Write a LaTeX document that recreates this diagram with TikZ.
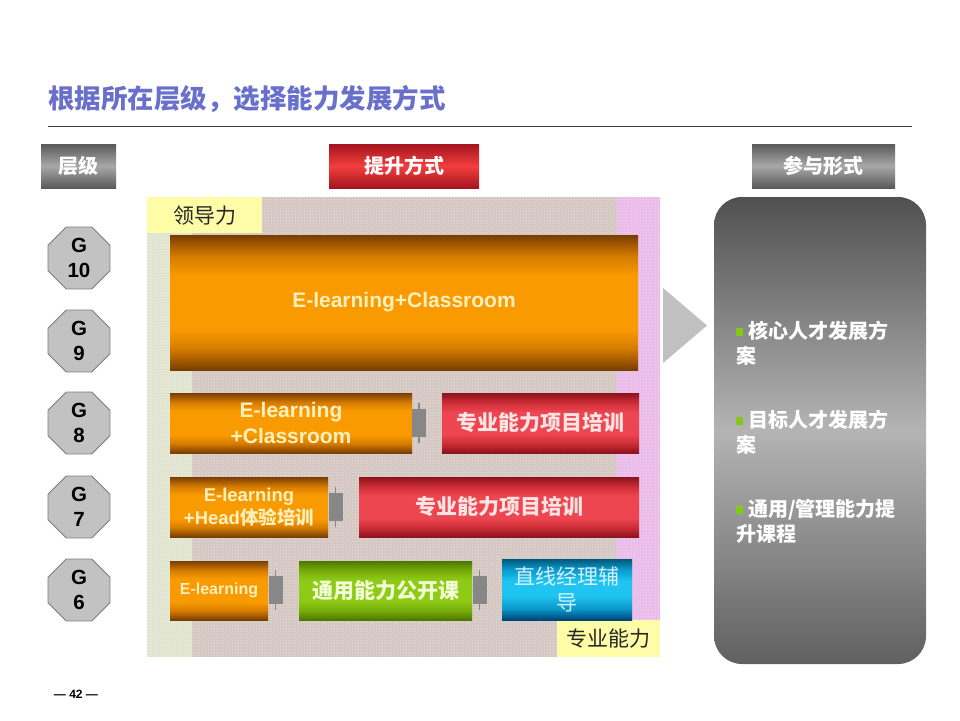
\documentclass[tikz,border=0pt]{standalone}
\usepackage{fontspec}
\setmainfont{Liberation Sans}
\newfontfamily\cjk{Noto Sans CJK SC}
\usetikzlibrary{shapes.geometric,patterns,positioning}
\definecolor{titleblue}{RGB}{104,112,204}
\definecolor{rulegray}{RGB}{60,60,60}
\definecolor{hg1}{RGB}{90,90,90}
\definecolor{hg2}{RGB}{168,168,168}
\definecolor{hr1}{RGB}{165,20,30}
\definecolor{hr2}{RGB}{242,62,62}
\definecolor{or1}{RGB}{120,62,0}
\definecolor{orm}{RGB}{214,124,0}
\definecolor{or2}{RGB}{248,154,0}
\definecolor{ortext}{RGB}{255,240,190}
\definecolor{rd1}{RGB}{140,18,28}
\definecolor{rdm}{RGB}{205,45,55}
\definecolor{rd2}{RGB}{238,70,80}
\definecolor{rdtext}{RGB}{255,228,228}
\definecolor{gr1}{RGB}{78,118,0}
\definecolor{grm}{RGB}{118,172,10}
\definecolor{gr2}{RGB}{142,202,22}
\definecolor{grtext}{RGB}{242,255,215}
\definecolor{bl1}{RGB}{0,88,120}
\definecolor{blm}{RGB}{10,150,200}
\definecolor{bl2}{RGB}{32,196,240}
\definecolor{bl3}{RGB}{0,66,118}
\definecolor{bltext}{RGB}{212,242,255}
\definecolor{conngray}{RGB}{135,135,135}
\definecolor{octfill}{RGB}{194,194,194}
\definecolor{octdraw}{RGB}{125,125,125}
\definecolor{bgtan}{RGB}{212,198,192}
\definecolor{bggreen}{RGB}{224,228,206}
\definecolor{bgpink}{RGB}{234,186,234}
\definecolor{bgyellow}{RGB}{255,252,168}
\definecolor{pn1}{RGB}{80,80,80}
\definecolor{pn2}{RGB}{180,180,180}
\definecolor{pn3}{RGB}{96,96,96}
\definecolor{arrgray}{RGB}{192,192,192}
\definecolor{bgreen}{RGB}{130,200,20}
\pgfdeclareverticalshading{orashade}{100bp}{color(0bp)=(or1); color(25bp)=(or1); color(33bp)=(orm); color(40bp)=(or2); color(60bp)=(or2); color(67bp)=(orm); color(75bp)=(or1); color(100bp)=(or1)}
\pgfdeclareverticalshading{redshade}{100bp}{color(0bp)=(rd1); color(25bp)=(rd1); color(33bp)=(rdm); color(41bp)=(rd2); color(59bp)=(rd2); color(67bp)=(rdm); color(75bp)=(rd1); color(100bp)=(rd1)}
\pgfdeclareverticalshading{greenshade}{100bp}{color(0bp)=(gr1); color(25bp)=(gr1); color(33bp)=(grm); color(41bp)=(gr2); color(59bp)=(gr2); color(67bp)=(grm); color(75bp)=(gr1); color(100bp)=(gr1)}
\pgfdeclareverticalshading{blueshade}{100bp}{color(0bp)=(bl3); color(25bp)=(bl3); color(34bp)=(blm); color(45bp)=(bl2); color(57bp)=(bl2); color(67bp)=(blm); color(75bp)=(bl1); color(100bp)=(bl1)}
\newcommand{\fs}[2]{\fontsize{#1}{#2}\selectfont}
\newcommand{\bul}{{\color{bgreen}\rule[3pt]{7pt}{8pt}}\hspace{5pt}}
\begin{document}
\begin{tikzpicture}[x=1pt,y=-1pt,
  hdr/.style={minimum height=44pt, inner sep=0pt, text=white, font=\cjk\bfseries\fs{20}{24}},
  hdrgray/.style={hdr, top color=hg1, bottom color=hg1, middle color=hg2},
  hdrred/.style={hdr, top color=hr1, bottom color=hr1, middle color=hr2},
  oct/.style={regular polygon, regular polygon sides=8, minimum size=67pt, inner sep=0pt,
    fill=octfill, draw=octdraw, line width=0.8pt, align=center, font=\bfseries\fs{20.5}{25}},
  obox/.style={inner sep=0pt, shading=orashade, text=ortext, align=center},
  rbox/.style={inner sep=0pt, shading=redshade, text=rdtext, align=center,
    font=\cjk\bfseries\fs{21}{26}},
  gbox/.style={inner sep=0pt, shading=greenshade, text=grtext, align=center,
    font=\cjk\bfseries\fs{21}{26}},
  bbox/.style={inner sep=0pt, shading=blueshade, text=bltext, align=center,
    font=\cjk\fs{21}{26}},
  conn/.style={fill=conngray, minimum width=14pt, minimum height=28pt, inner sep=0pt},
  connpin/.style={conngray, line width=1.6pt},
  ylabel/.style={fill=bgyellow, inner sep=0pt, font=\cjk\fs{21}{24}, text=black!85},
  item/.style={anchor=north west, inner sep=0pt, align=left, text=white, font=\cjk\bfseries\fs{20}{25}}
]
\useasboundingbox (0,0) rectangle (960,720);
\fill[white] (0,0) rectangle (960,720);

% title
\node[anchor=west, inner sep=0pt, text=titleblue, font=\cjk\bfseries\fs{26.5}{30}] (title) at (48,99) {根据所在层级，选择能力发展方式};
\draw[rulegray, line width=1pt] (48,126) -- (912,126);

% headers
\node[hdrgray, minimum width=75pt] (hlevel) at (78.5,166) {层级};
\node[hdrred, minimum width=150pt] (hmethod) at (404,166) {提升方式};
\node[hdrgray, minimum width=143pt] (hform) at (823.5,166) {参与形式};

% textured background
\fill[bgtan] (192,197) rectangle (617,657);
\fill[bggreen] (147,197) rectangle (192,657);
\fill[bgpink] (617,197) rectangle (660,620);
\fill[pattern=crosshatch dots, pattern color=white, opacity=0.5] (147,197) rectangle (660,657);
\node[ylabel, anchor=north west, minimum width=115pt, minimum height=36pt] (lead) at (147,197) {领导力};
\node[ylabel, anchor=south east, minimum width=103pt, minimum height=37pt] (prof) at (660,657) {专业能力};

% level octagons
\node[oct] (g10) at (79,258) {G\\10};
\node[oct] (g9) at (79,341) {G\\9};
\node[oct] (g8) at (79,423) {G\\8};
\node[oct] (g7) at (79,507) {G\\7};
\node[oct] (g6) at (79,590) {G\\6};

% G9-G10
\node[obox, minimum width=468pt, minimum height=135pt, font=\bfseries\fs{21}{24}] (big) at (404,302.5) {E-learning+Classroom};

% G8
\node[obox, minimum width=242pt, minimum height=60pt, font=\bfseries\fs{21}{26}] (o8) at (291,423) {E-learning\\+Classroom};
\node[rbox, minimum width=197pt, minimum height=60pt] (r8) at (540.5,423) {专业能力项目培训};
\node[conn] (c8) at (419,423) {};
\draw[connpin] ([yshift=6pt]c8.north) -- ([yshift=-6pt]c8.south);

% G7
\node[obox, minimum width=158pt, minimum height=60pt, font=\bfseries\fs{18.5}{23}] (o7) at (249,507) {E-learning\\+Head{\cjk 体验培训}};
\node[rbox, minimum width=280pt, minimum height=60pt] (r7) at (499,507) {专业能力项目培训};
\node[conn] (c7) at (335.5,507) {};
\draw[connpin] ([yshift=6pt]c7.north) -- ([yshift=-6pt]c7.south);

% G6
\node[obox, minimum width=98pt, minimum height=59pt, font=\bfseries\fs{16}{20}] (o6) at (219,590.5) {E-learning};
\node[gbox, minimum width=173pt, minimum height=59pt] (gn6) at (385.5,590.5) {通用能力公开课};
\node[bbox, minimum width=130pt, minimum height=61pt] (bl6) at (567,589.5) {直线经理辅\\导};
\node[conn] (c6a) at (275.5,590) {};
\draw[connpin] ([yshift=6pt]c6a.north) -- ([yshift=-6pt]c6a.south);
\node[conn] (c6b) at (479.5,590) {};
\draw[connpin] ([yshift=6pt]c6b.north) -- ([yshift=-6pt]c6b.south);

% arrow
\coordinate (a1) at (663,288);
\coordinate (a2) at (707,325.5);
\coordinate (a3) at (663,363);
\fill[arrgray] (a1) -- (a2) -- (a3) -- cycle;

% right panel
\node[minimum width=212pt, minimum height=467pt, rounded corners=28pt, inner sep=0pt,
  top color=pn1, bottom color=pn3, middle color=pn2] (panel) at (820,430.5) {};
\node[item] (i1) at (736,321) {\bul 核心人才发展方\\案};
\node[item] (i2) at (736,410) {\bul 目标人才发展方\\案};
\node[item] (i3) at (736,499) {\bul 通用/管理能力提\\升课程};

% page number
\node[inner sep=0pt, font=\bfseries\fs{12}{14}] (page) at (76,694) {— 42 —};
\end{tikzpicture}
\end{document}
